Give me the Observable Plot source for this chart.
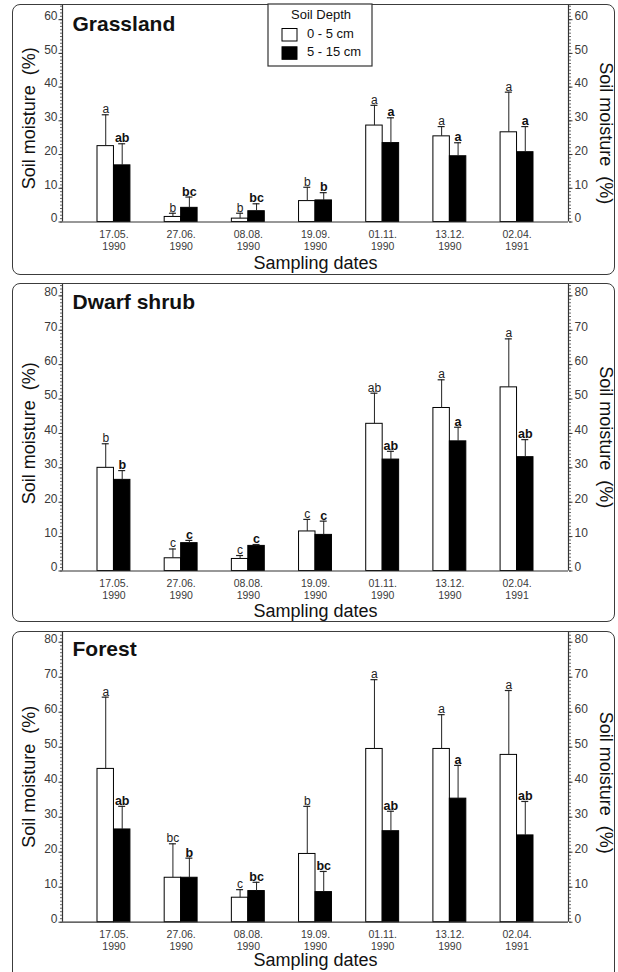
<!DOCTYPE html>
<html><head><meta charset="utf-8">
<script src="https://cdn.jsdelivr.net/npm/d3@7"></script>
<script src="https://cdn.jsdelivr.net/npm/@observablehq/plot@0.6"></script>
<style>
html,body{margin:0;padding:0;background:#fff;overflow:hidden;width:618px;height:972px;font-family:"Liberation Sans",Arial,sans-serif;}
.border{position:absolute;border:1.4px solid #3c3c3c;border-radius:8px;box-sizing:border-box;pointer-events:none;}
svg.p{position:absolute;}
</style></head><body>
<script>
// ---------------- data ----------------
const dates = ["17.05.\n1990","27.06.\n1990","08.08.\n1990","19.09.\n1990","01.11.\n1990","13.12.\n1990","02.04.\n1991"];
const depths = ["0 - 5 cm","5 - 15 cm"];
const legendTitle = "Soil Depth";

const grassShallow   = [22.5, 1.5, 1.0, 6.2, 28.6, 25.4, 26.6];
const grassShallowSd = [9.3, 1.1, 1.6, 4.1, 6.0, 2.9, 11.9];
const grassDeep      = [16.8, 4.2, 3.2, 6.4, 23.4, 19.5, 20.7];
const grassDeepSd    = [6.4, 3.2, 2.2, 2.3, 7.5, 4.0, 7.6];
const grassShallowLetters = ["a","b","b","b","a","a","a"];
const grassDeepLetters    = ["ab","bc","bc","b","a","a","a"];

const shrubShallow   = [30.0, 3.7, 3.5, 11.5, 42.8, 47.4, 53.4];
const shrubShallowSd = [7.0, 2.7, 1.0, 3.5, 8.9, 8.2, 14.1];
const shrubDeep      = [26.5, 8.1, 7.3, 10.5, 32.4, 37.7, 33.1];
const shrubDeepSd    = [2.7, 0.8, 0.4, 4.0, 2.4, 4.1, 5.1];
const shrubShallowLetters = ["b","c","c","c","ab","a","a"];
const shrubDeepLetters    = ["b","c","c","c","ab","a","ab"];

const forestShallow   = [43.8, 12.7, 7.0, 19.5, 49.5, 49.5, 47.8];
const forestShallowSd = [20.5, 9.7, 2.3, 13.6, 19.8, 9.8, 18.4];
const forestDeep      = [26.5, 12.7, 8.9, 8.6, 26.0, 35.3, 24.8];
const forestDeepSd    = [6.6, 5.6, 2.5, 5.9, 5.7, 9.5, 9.7];
const forestShallowLetters = ["a","bc","c","b","a","a","a"];
const forestDeepLetters    = ["ab","b","bc","bc","ab","a","ab"];

const yTicks60 = [0,10,20,30,40,50,60];
const yTicks80 = [0,10,20,30,40,50,60,70,80];
const yLabel = "Soil moisture  (%)";
const xLabel = "Sampling dates";
// --------------------------------------

const FONT = '"Liberation Sans", Arial, sans-serif';
const half = 0.245;   // width of one bar in date-band units
const cap = 0.052;    // half width of error cap
const xLo = -0.766, xHi = 6.766;

function panel(cfg) {
  const rows = [];
  dates.forEach((d, i) => {
    rows.push({i, depth: depths[0], value: cfg.shallow[i], sd: cfg.shallowSd[i], letter: cfg.shallowLetters[i]});
    rows.push({i, depth: depths[1], value: cfg.deep[i], sd: cfg.deepSd[i], letter: cfg.deepLetters[i]});
  });
  const sh = rows.filter(r => r.depth === depths[0]);
  const dp = rows.filter(r => r.depth === depths[1]);
  const xc = r => r.depth === depths[0] ? r.i - half / 2 : r.i + half / 2;
  const topv = r => r.value + r.sd;
  const minor = d3.range(0, cfg.yMax, 1);

  const svg = Plot.plot({
    width: 603, height: cfg.height,
    marginLeft: 50, marginRight: 47, marginTop: 0, marginBottom: cfg.marginBottom,
    x: {domain: [xLo, xHi], label: null},
    y: {domain: [0, cfg.yMax], label: null},
    style: {fontFamily: FONT, background: "transparent", overflow: "visible"},
    marks: [
      // bars
      Plot.rectY(sh, {x1: r => r.i - half, x2: r => r.i, y1: 0, y2: "value", fill: "white", stroke: "black", strokeWidth: 1}),
      Plot.rectY(dp, {x1: r => r.i, x2: r => r.i + half, y1: 0, y2: "value", fill: "black", stroke: "black", strokeWidth: 1}),
      // error bars
      Plot.ruleX(rows, {x: xc, y1: "value", y2: topv, stroke: "#222", strokeWidth: 1}),
      Plot.ruleY(rows, {y: topv, x1: r => xc(r) - cap, x2: r => xc(r) + cap, stroke: "#222", strokeWidth: 1.2}),
      // letters
      Plot.text(sh, {x: xc, y: topv, text: "letter", lineAnchor: "bottom", dy: -1.5, fontSize: 12, fill: "#222"}),
      Plot.text(dp, {x: xc, y: topv, text: "letter", lineAnchor: "bottom", dy: -1.5, fontSize: 12.5, fontWeight: "bold", fill: "#111"}),
      // axes lines
      Plot.ruleX([xLo, xHi], {stroke: "#333", strokeWidth: 1.2}),
      Plot.ruleY([0], {stroke: "#333", strokeWidth: 1.2}),
      // y ticks
      Plot.axisY(minor, {anchor: "left", tickSize: 2, fill: "none", stroke: "#666", label: null}),
      Plot.axisY(minor, {anchor: "right", tickSize: 2, fill: "none", stroke: "#666", label: null}),
      Plot.axisY(cfg.yTicks, {anchor: "left", tickSize: 3.5, fill: "none", stroke: "#333", label: null}),
      Plot.axisY(cfg.yTicks, {anchor: "right", tickSize: 3.5, fill: "none", stroke: "#333", label: null}),
      Plot.axisY(cfg.yTicks, {anchor: "left", tickSize: 0, tickPadding: 5, dy: -3.5, fontSize: 12, fill: "#3a3a3a", label: null}),
      Plot.axisY(cfg.yTicks, {anchor: "right", tickSize: 0, tickPadding: 6, dy: -3.5, fontSize: 12, fill: "#3a3a3a", label: null}),
      // x tick labels
      Plot.axisX(d3.range(dates.length), {tickSize: 0, tickPadding: 7.5, tickFormat: i => dates[i], fontSize: 10.5, lineHeight: 1.12, fill: "#3a3a3a", label: null}),
      // axis titles
      Plot.text([xLabel], {text: d => d, frameAnchor: "bottom", dy: cfg.xLabelDy, lineAnchor: "middle", fontSize: 18, fill: "#111"}),
      Plot.text([yLabel], {text: d => d, frameAnchor: "left", dx: -33, dy: cfg.leftDy, rotate: -90, textAnchor: "middle", lineAnchor: "middle", fontSize: 18, fill: "#111"}),
      Plot.text([yLabel], {text: d => d, frameAnchor: "right", dx: 37, dy: cfg.rightDy, rotate: 90, textAnchor: "middle", lineAnchor: "middle", fontSize: 18, fill: "#111"}),
      // panel title
      Plot.text([cfg.title], {text: d => d, frameAnchor: "top-left", dx: 10, dy: cfg.titleDy, textAnchor: "start", lineAnchor: "middle", fontSize: 21, fontWeight: "bold", fill: "#111"})
    ]
  });
  svg.classList.add("p");
  svg.style.left = "12px";
  svg.style.top = cfg.top + "px";
  document.body.appendChild(svg);
  const b = document.createElement("div");
  b.className = "border";
  Object.assign(b.style, {left: "12px", top: cfg.top + "px", width: "603px", height: cfg.height + "px"});
  document.body.appendChild(b);
}

panel({title: "Grassland", shallow: grassShallow, shallowSd: grassShallowSd, deep: grassDeep, deepSd: grassDeepSd,
  shallowLetters: grassShallowLetters, deepLetters: grassDeepLetters, yTicks: yTicks60, yMax: 64.5,
  top: 4, height: 271, marginBottom: 53.5, titleDy: 20, leftDy: 5, rightDy: 20, xLabelDy: 41});
panel({title: "Dwarf shrub", shallow: shrubShallow, shallowSd: shrubShallowSd, deep: shrubDeep, deepSd: shrubDeepSd,
  shallowLetters: shrubShallowLetters, deepLetters: shrubDeepLetters, yTicks: yTicks80, yMax: 83.6,
  top: 283, height: 339, marginBottom: 51.5, titleDy: 18.5, leftDy: 6, rightDy: 10, xLabelDy: 40});
panel({title: "Forest", shallow: forestShallow, shallowSd: forestShallowSd, deep: forestDeep, deepSd: forestDeepSd,
  shallowLetters: forestShallowLetters, deepLetters: forestDeepLetters, yTicks: yTicks80, yMax: 83.06,
  top: 631, height: 350, marginBottom: 59.3, titleDy: 17.3, leftDy: 0, rightDy: 6, xLabelDy: 38.5});

// legend (panel 1)
const lg = d3.select("body").append("svg").attr("class", "p")
  .style("left", "0px").style("top", "0px").attr("width", 618).attr("height", 80)
  .style("font-family", FONT);
lg.append("rect").attr("x", 268).attr("y", 4).attr("width", 104).attr("height", 62)
  .attr("fill", "white").attr("stroke", "#333").attr("stroke-width", 1.2);
lg.append("text").attr("x", 321).attr("y", 19.3).attr("text-anchor", "middle")
  .attr("font-size", 13).attr("fill", "#111").text(legendTitle);
const swatchFill = ["white", "black"];
depths.forEach((d, k) => {
  lg.append("rect").attr("x", 282).attr("y", 28.5 + k * 18.3).attr("width", 15).attr("height", 12.5)
    .attr("fill", swatchFill[k]).attr("stroke", "black").attr("stroke-width", 1);
  lg.append("text").attr("x", 307).attr("y", 37.7 + k * 18.3).attr("font-size", 13).attr("fill", "#111").text(d);
});
</script>
</body></html>
